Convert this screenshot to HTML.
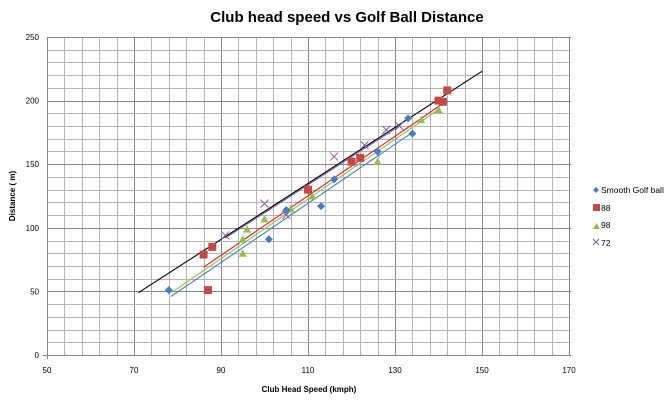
<!DOCTYPE html>
<html><head><meta charset="utf-8"><style>
body{margin:0;background:#fff;}
svg{display:block;font-family:"Liberation Sans",sans-serif;}
</style></head><body>
<svg id="s" width="672" height="402" xmlns="http://www.w3.org/2000/svg">
<rect width="672" height="402" fill="#fff"/>
<g id="grid"></g>
<g id="data"></g>
<text x="347" y="22" font-size="15" font-weight="bold" text-anchor="middle">Club head speed vs Golf Ball Distance</text>
<text x="309" y="392" font-size="8" font-weight="bold" text-anchor="middle">Club Head Speed (kmph)</text>
<text transform="translate(15,196) rotate(-90)" font-size="8" font-weight="bold" text-anchor="middle">Distance ( m)</text>
<g font-size="8.5">
<path d="M593 190 l3 -3 l3 3 l-3 3z" fill="#4a7ebb"/><text x="601" y="193">Smooth Golf ball</text>
<rect x="593" y="204" width="7" height="7" fill="#be4b48"/><text x="601" y="211">88</text>
<path d="M593 229 l3.5 -6 l3.5 6z" fill="#98b954"/><text x="601" y="228">98</text>
<path d="M593 239 l6 6 M599 239 l-6 6" stroke="#7d60a0" stroke-width="1"/><text x="601" y="246">72</text>
</g>
</svg>
<script>
const ns="http://www.w3.org/2000/svg";
const X=v=>47+(v-50)*4.35, Y=v=>355-v*1.272;
const g=document.getElementById('grid'), d=document.getElementById('data');
function el(p,t,a){const e=document.createElementNS(ns,t);for(const k in a)e.setAttribute(k,a[k]);p.appendChild(e);return e;}
for(let v=50;v<=170;v+=4){const x=Math.round(X(v))+0.5;const maj=(v-50)%20==0;el(g,'line',{x1:x,x2:x,y1:37,y2:355,stroke:maj?'#868686':'#b4b4b4','stroke-width':1});}
for(let v=0;v<=250;v+=10){const y=Math.round(Y(v))+0.5;const maj=v%50==0;el(g,'line',{x1:47,x2:571,y1:y,y2:y,stroke:maj?'#868686':'#b4b4b4','stroke-width':1});}
el(g,'line',{x1:47.5,x2:47.5,y1:37,y2:359,stroke:'#868686'});
el(g,'line',{x1:43,x2:571,y1:355.5,y2:355.5,stroke:'#868686'});
for(let v=50;v<=170;v+=20){const t=el(g,'text',{x:X(v),y:373,'font-size':8,'text-anchor':'middle'});t.textContent=v;}
for(let v=0;v<=250;v+=50){const t=el(g,'text',{x:39,y:Y(v)+3,'font-size':8,'text-anchor':'end'});t.textContent=v;}
function line(a,b,c,e,col){el(d,'line',{x1:X(a),y1:Y(b),x2:X(c),y2:Y(e),stroke:col,'stroke-width':1.1});}
line(71,49,150,223,'#000');
line(86,69,142,200,'#d02020');
line(79,50,140,193,'#98b954');
line(78.5,46,134,175,'#4a7ebb');
line(91,92,131,180,'#7d60a0');
const blue=[[78,51],[101,91],[105,114],[113,117],[116,138],[126,160],[133,186],[134,174]];
const red=[[86,79],[87,51],[88,85],[110,130],[120,152],[122,155],[140,200],[141,199],[142,208]];
const green=[[95,80],[95,91],[96,99],[100,107],[106,115],[111,125],[126,152],[136,185],[140,193]];
const purple=[[91,94],[100,119],[105,110],[116,156],[123,165],[128,177],[131,180]];
purple.forEach(([a,b])=>{const x=X(a),y=Y(b);el(d,'path',{d:`M${x-4} ${y-4}L${x+4} ${y+4}M${x+4} ${y-4}L${x-4} ${y+4}`,stroke:'#7d60a0','stroke-width':1});});
green.forEach(([a,b])=>{const x=X(a),y=Y(b);el(d,'path',{d:`M${x-4} ${y+3.5}L${x} ${y-4}L${x+4} ${y+3.5}z`,fill:'#98b954'});});
red.forEach(([a,b])=>{const x=X(a),y=Y(b);el(d,'rect',{x:x-4,y:y-4,width:8,height:8,fill:'#be4b48'});});
blue.forEach(([a,b])=>{const x=X(a),y=Y(b);el(d,'path',{d:`M${x} ${y-4}L${x+4} ${y}L${x} ${y+4}L${x-4} ${y}z`,fill:'#4a7ebb'});});
</script>
</body></html>
